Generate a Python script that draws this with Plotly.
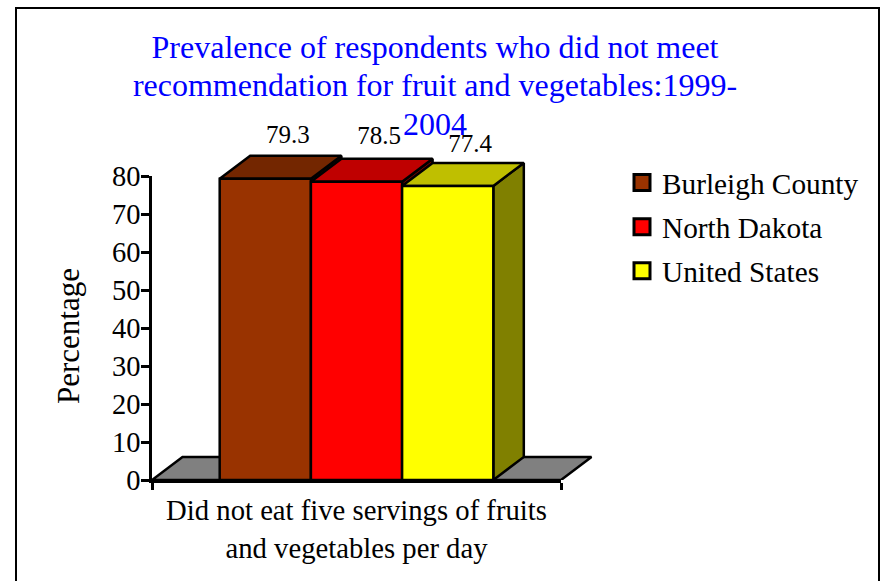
import plotly.graph_objects as go

# ---- data ----
categories = ["Did not eat five servings of fruits<br>and vegetables per day"]
series = ["Burleigh County", "North Dakota", "United States"]
values = [79.3, 78.5, 77.4]
y_ticks = [0, 10, 20, 30, 40, 50, 60, 70, 80]
title_lines = ["Prevalence of respondents who did not meet",
               "recommendation for fruit and vegetables:1999-",
               "2004"]
y_title = "Percentage"

# ---- styles ----
front_colors = ["#993300", "#FF0000", "#FFFF00"]
top_colors = ["#732600", "#BF0000", "#BFBF00"]
side_colors = ["#662200", "#800000", "#808000"]
floor_color = "#808080"
FONT = "Liberation Serif"
W, H = 884, 581
LW = 2.5

# pixel geometry of the plot box
PX_L, PX_R, PX_T, PX_B = 152, 561, 176, 480
PX_R_WIDE, PX_T_WIDE = 600, 110
DEPTH_X_PX, DEPTH_Y_PX = 30.5, 23
GROUP_SHARE = 0.669
LABEL_SHIFT_X_PX = 22.5
LABEL_SHIFT_Y_PX = [18.5, 21, 17]

px_per_x = PX_R - PX_L
px_per_y = (PX_B - PX_T) / 80.0
dx = DEPTH_X_PX / px_per_x
dy = DEPTH_Y_PX / px_per_y
bar_w = GROUP_SHARE / len(series)
title_text = "<br>".join('<span style="font-size:32px">%s</span>' % t for t in title_lines)

fig = go.Figure()

# floor and 3-D faces (lower subplot, painted first)
x_lo, x_hi = -0.5, 0.5
fig.add_trace(go.Scatter(
    x=[x_lo, x_hi, x_hi + dx, x_lo + dx, x_lo], y=[0, 0, dy, dy, 0],
    mode="lines", fill="toself", fillcolor=floor_color,
    line=dict(color="black", width=LW), showlegend=False, hoverinfo="skip",
    xaxis="x", yaxis="y"))

centers = [(i - (len(series) - 1) / 2) * bar_w for i in range(len(series))]
for c, v, tc, sc in zip(centers, values, top_colors, side_colors):
    l, r = c - bar_w / 2, c + bar_w / 2
    fig.add_trace(go.Scatter(
        x=[r, r + dx, r + dx, r, r], y=[0, dy, v + dy, v, 0],
        mode="lines", fill="toself", fillcolor=sc,
        line=dict(color="black", width=LW), showlegend=False, hoverinfo="skip",
        xaxis="x", yaxis="y"))
    fig.add_trace(go.Scatter(
        x=[l, r, r + dx, l + dx, l], y=[v, v, v + dy, v + dy, v],
        mode="lines", fill="toself", fillcolor=tc,
        line=dict(color="black", width=LW), showlegend=False, hoverinfo="skip",
        xaxis="x", yaxis="y"))

# front faces
for name, v, fc in zip(series, values, front_colors):
    fig.add_trace(go.Bar(
        x=[0], y=[v], name=name, marker=dict(color=fc, line=dict(color="black", width=LW)),
        showlegend=False, xaxis="x2", yaxis="y2"))

# value labels
fig.add_trace(go.Scatter(
    x=[c + LABEL_SHIFT_X_PX / px_per_x for c in centers],
    y=[v + dy + s / px_per_y for v, s in zip(values, LABEL_SHIFT_Y_PX)],
    text=[str(v) for v in values], mode="text", textposition="middle center",
    textfont=dict(family=FONT, size=25, color="black"), cliponaxis=False,
    showlegend=False, hoverinfo="skip", xaxis="x", yaxis="y"))

# legend keys
for name, fc in zip(series, front_colors):
    fig.add_trace(go.Scatter(
        x=[None], y=[None], name=name, mode="markers", legendgroup=name,
        marker=dict(symbol="square", size=16, color=fc, line=dict(color="black", width=3)),
        xaxis="x", yaxis="y"))

fig.update_layout(
    width=W, height=H, paper_bgcolor="white", plot_bgcolor="rgba(0,0,0,0)",
    margin=dict(l=0, r=0, t=0, b=0, autoexpand=False),
    barmode="group", bargap=1 - GROUP_SHARE, bargroupgap=0,
    font=dict(family=FONT, color="black"),
    title=dict(text=title_text, x=435 / W, y=1 - 58 / H, xanchor="center", yanchor="top",
               font=dict(family=FONT, size=29.6, color="#0000FF")),
    xaxis=dict(domain=[PX_L / W, PX_R_WIDE / W], range=[x_lo, x_lo + (PX_R_WIDE - PX_L) / px_per_x],
               visible=False, anchor="y"),
    yaxis=dict(domain=[1 - PX_B / H, 1 - PX_T_WIDE / H], range=[0, (PX_B - PX_T_WIDE) / px_per_y],
               visible=False, anchor="x"),
    xaxis2=dict(domain=[PX_L / W, PX_R / W], range=[x_lo, x_hi], anchor="y2",
                showgrid=False, zeroline=False, showline=True, linecolor="black", linewidth=LW,
                tickmode="array", tickvals=[0], ticktext=categories, ticks="", ticklabelstandoff=3,
                tickfont=dict(family=FONT, size=28.7, color="black"),
                minor=dict(tickmode="array", tickvals=[x_lo, x_hi], ticks="outside", ticklen=7,
                           tickwidth=LW, tickcolor="black")),
    yaxis2=dict(domain=[1 - PX_B / H, 1 - PX_T / H], range=[0, 80], anchor="x2",
                showgrid=False, zeroline=False, showline=True, linecolor="black", linewidth=LW,
                tickmode="array", tickvals=y_ticks, ticks="outside", ticklen=8, tickwidth=LW,
                ticklabelstandoff=-5,
                tickcolor="black", tickfont=dict(family=FONT, size=28.5, color="black")),
    legend=dict(x=622 / W, y=1 - 157 / H, xanchor="left", yanchor="top",
                font=dict(family=FONT, size=29.3, color="black"), bgcolor="rgba(0,0,0,0)",
                tracegroupgap=3),
    annotations=[dict(text=y_title, xref="paper", yref="paper", x=68 / W, y=1 - 336 / H,
                      xanchor="center", yanchor="middle", textangle=-90, showarrow=False,
                      font=dict(family=FONT, size=31, color="black"))],
    shapes=[dict(type="rect", xref="paper", yref="paper", x0=16 / W, x1=879 / W,
                 y0=-0.1, y1=1 - 8 / H, line=dict(color="black", width=2), layer="below")],
)

fig.write_html("out.html", config={"displayModeBar": False},
               post_script="document.body.style.margin='0';document.body.style.overflow='hidden';")
